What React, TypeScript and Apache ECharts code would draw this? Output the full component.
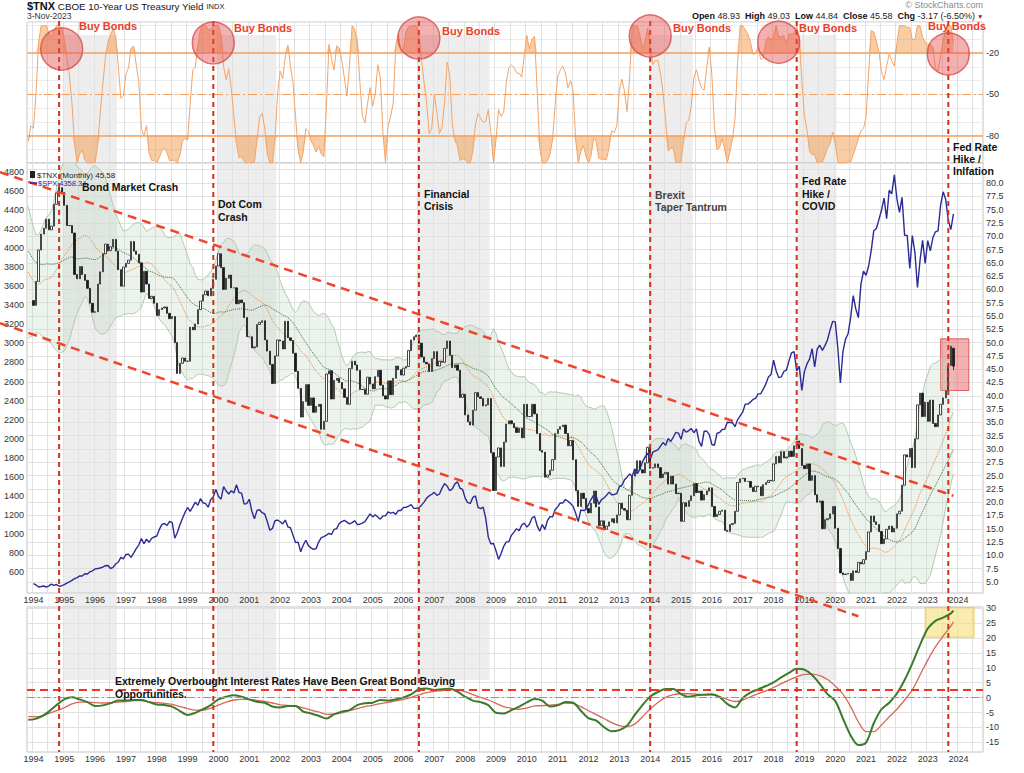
import React, { useEffect, useRef } from 'react';
import * as echarts from 'echarts';

const FONT = "'Liberation Sans', Arial, Helvetica, sans-serif";

// ---------- categories (monthly) ----------
const CAT_FIRST = '1993-11';
const N_CATS = 372;
const CHART_FIRST = '1994-01';

// ---------- data ----------
// $TNX month-end closes (yield x 10), from 1991-01 (earlier months only feed the moving averages)
const TNX_START = '1991-01';
const TNX_CLOSE: number[] = [
  80.9, 80.3, 80.7, 80.2, 80.6, 82.3, 81.3, 77.5, 74.7, 74.3, 74.0, 67.4, // 1991
  72.7, 72.5, 75.3, 75.8, 73.2, 71.2, 67.1, 66.0, 63.5, 67.9, 69.4, 67.0, // 1992
  63.9, 60.3, 60.3, 60.5, 61.6, 58.0, 58.1, 54.5, 53.8, 54.3, 58.2, 57.9, // 1993
  57.0, 61.5, 67.4, 70.4, 71.5, 73.2, 71.2, 71.9, 76.0, 78.1, 79.1, 78.2, // 1994
  75.8, 72.0, 72.0, 70.6, 62.8, 62.0, 64.3, 62.8, 61.7, 60.2, 57.4, 55.7, // 1995
  55.8, 61.0, 63.3, 66.7, 68.5, 67.3, 68.0, 69.4, 67.2, 63.7, 60.6, 64.2, // 1996
  64.9, 65.5, 69.0, 67.2, 66.6, 65.0, 59.5, 63.4, 61.0, 58.3, 58.7, 57.4, // 1997
  55.1, 56.2, 56.5, 56.7, 55.5, 54.5, 54.9, 50.0, 44.2, 46.1, 47.1, 46.5, // 1998
  46.5, 52.9, 52.4, 53.5, 56.2, 57.8, 59.0, 59.7, 58.8, 60.2, 61.9, 64.4, // 1999
  66.7, 64.1, 60.0, 62.1, 62.7, 60.3, 60.3, 57.3, 58.0, 57.5, 54.7, 51.1, // 2000
  51.1, 49.0, 49.2, 53.4, 53.8, 54.1, 50.5, 48.4, 45.9, 42.3, 47.5, 50.5, // 2001
  50.3, 48.8, 54.0, 50.9, 50.4, 48.0, 44.6, 41.4, 36.0, 38.9, 42.1, 38.2, // 2002
  39.6, 36.9, 38.0, 38.4, 33.7, 35.2, 44.1, 44.7, 39.4, 42.9, 43.3, 42.5, // 2003
  41.3, 39.7, 38.4, 45.1, 46.5, 45.8, 44.8, 41.2, 41.2, 40.3, 43.5, 42.2, // 2004
  41.3, 43.6, 44.8, 42.0, 40.0, 39.4, 42.8, 40.2, 43.3, 45.6, 44.9, 43.9, // 2005
  45.2, 45.5, 48.5, 50.5, 51.1, 51.4, 49.9, 47.3, 46.3, 46.0, 44.6, 47.0, // 2006
  48.3, 45.6, 46.5, 46.3, 48.9, 50.3, 47.6, 45.3, 45.8, 44.8, 39.7, 40.3, // 2007
  36.4, 35.1, 34.5, 37.3, 40.6, 39.8, 39.5, 38.1, 38.3, 39.5, 29.3, 22.2, // 2008
  28.5, 30.2, 26.7, 31.3, 34.7, 35.3, 34.8, 34.0, 33.1, 33.9, 32.1, 38.4, // 2009
  36.1, 36.1, 38.4, 36.6, 32.9, 29.7, 29.4, 24.7, 25.1, 26.0, 28.0, 32.9, // 2010
  33.7, 34.2, 34.5, 32.9, 30.6, 31.6, 28.0, 22.2, 19.2, 21.7, 20.7, 18.8, // 2011
  18.0, 19.8, 22.1, 19.1, 15.6, 16.5, 14.9, 15.5, 16.3, 16.9, 16.1, 17.6, // 2012
  19.8, 18.8, 18.5, 16.7, 21.3, 24.9, 25.8, 27.8, 26.1, 25.5, 27.4, 30.3, // 2013
  26.4, 26.5, 27.2, 26.5, 24.6, 25.3, 25.6, 23.4, 24.9, 23.4, 21.6, 21.7, // 2014
  16.4, 19.9, 19.2, 20.3, 21.2, 23.5, 21.8, 22.1, 20.4, 21.4, 22.1, 22.7, // 2015
  19.2, 17.3, 17.7, 18.3, 18.5, 14.7, 14.5, 15.8, 16.0, 18.3, 23.7, 24.4, // 2016
  24.5, 23.9, 23.9, 22.8, 22.0, 23.0, 22.9, 21.2, 23.3, 23.7, 24.1, 24.0, // 2017
  27.2, 28.6, 27.4, 29.5, 28.3, 28.5, 29.6, 28.6, 30.6, 31.5, 30.1, 26.9, // 2018
  26.3, 27.2, 24.1, 25.0, 21.4, 20.0, 20.2, 15.0, 16.7, 16.9, 17.8, 19.2, // 2019
  15.1, 11.3, 6.7, 6.4, 6.5, 6.6, 5.3, 7.1, 6.8, 8.7, 8.4, 9.2,           // 2020
  10.7, 14.4, 17.4, 16.3, 15.8, 14.5, 12.2, 13.1, 14.9, 15.5, 14.4, 15.1, // 2021
  17.8, 18.3, 23.2, 28.9, 28.5, 30.1, 26.5, 31.9, 38.3, 40.5, 36.1, 38.8, // 2022
  35.2, 39.2, 34.8, 34.2, 36.4, 38.4, 39.6, 40.9, 45.7, 49.3, 45.58,      // 2023
];
// last (current) monthly bar, from the header
const LAST_BAR = { open: 48.93, high: 49.03, low: 44.84, close: 45.58, chg: -3.17, chgPct: -6.5 };

// $SPX month-end closes from 1994-01
const SPX_START = '1994-01';
const SPX_CLOSE: number[] = [
  481.6, 467.1, 445.8, 450.9, 456.5, 444.3, 458.3, 475.5, 462.7, 472.4, 453.7, 459.3,
  470.4, 487.4, 500.7, 514.7, 533.4, 544.8, 562.1, 561.9, 584.4, 581.5, 605.4, 615.9,
  636.0, 640.4, 645.5, 654.2, 669.1, 670.6, 639.9, 652.0, 687.3, 705.3, 757.0, 740.7,
  786.2, 790.8, 757.1, 801.3, 848.3, 885.1, 954.3, 899.5, 947.3, 914.6, 955.4, 970.4,
  980.3, 1049.3, 1101.8, 1111.8, 1090.8, 1133.8, 1120.7, 957.3, 1017.0, 1098.7, 1163.6, 1229.2,
  1279.6, 1238.3, 1286.4, 1335.2, 1301.8, 1372.7, 1328.7, 1320.4, 1282.7, 1362.9, 1388.9, 1469.3,
  1394.5, 1366.4, 1498.6, 1452.4, 1420.6, 1454.6, 1430.8, 1517.7, 1436.5, 1429.4, 1315.2, 1320.3,
  1366.0, 1239.9, 1160.3, 1249.5, 1255.8, 1224.4, 1211.2, 1133.6, 1040.9, 1059.8, 1139.5, 1148.1,
  1130.2, 1106.7, 1147.4, 1076.9, 1067.1, 989.8, 911.6, 916.1, 815.3, 885.8, 936.3, 879.8,
  855.7, 841.2, 848.2, 916.9, 963.6, 974.5, 990.3, 1008.0, 996.0, 1050.7, 1058.2, 1111.9,
  1131.1, 1144.9, 1126.2, 1107.3, 1120.7, 1140.8, 1101.7, 1104.2, 1114.6, 1130.2, 1173.8, 1211.9,
  1181.3, 1203.6, 1180.6, 1156.9, 1191.5, 1191.3, 1234.2, 1220.3, 1228.8, 1207.0, 1249.5, 1248.3,
  1280.1, 1280.7, 1294.8, 1310.6, 1270.1, 1270.2, 1276.7, 1303.8, 1335.9, 1377.9, 1400.6, 1418.3,
  1438.2, 1406.8, 1420.9, 1482.4, 1530.6, 1503.4, 1455.3, 1474.0, 1527.0, 1549.4, 1481.1, 1468.4,
  1378.6, 1330.6, 1322.7, 1385.6, 1400.4, 1280.0, 1267.4, 1282.8, 1166.4, 968.8, 896.2, 903.3,
  825.9, 735.1, 797.9, 872.8, 919.1, 919.3, 987.5, 1020.6, 1057.1, 1036.2, 1095.6, 1115.1,
  1073.9, 1104.5, 1169.4, 1186.7, 1089.4, 1030.7, 1101.6, 1049.3, 1141.2, 1183.3, 1180.6, 1257.6,
  1286.1, 1327.2, 1325.8, 1363.6, 1345.2, 1320.6, 1292.3, 1218.9, 1131.4, 1253.3, 1247.0, 1257.6,
  1312.4, 1365.7, 1408.5, 1397.9, 1310.3, 1362.2, 1379.3, 1406.6, 1440.7, 1412.2, 1416.2, 1426.2,
  1498.1, 1514.7, 1569.2, 1597.6, 1630.7, 1606.3, 1685.7, 1633.0, 1681.6, 1756.5, 1805.8, 1848.4,
  1782.6, 1859.5, 1872.3, 1884.0, 1923.6, 1960.2, 1930.7, 2003.4, 1972.3, 2018.1, 2067.6, 2058.9,
  1995.0, 2104.5, 2067.9, 2085.5, 2107.4, 2063.1, 2103.8, 1972.2, 1920.0, 2079.4, 2080.4, 2043.9,
  1940.2, 1932.2, 2059.7, 2065.3, 2097.0, 2098.9, 2173.6, 2171.0, 2168.3, 2126.2, 2198.8, 2238.8,
  2278.9, 2363.6, 2362.7, 2384.2, 2411.8, 2423.4, 2470.3, 2471.7, 2519.4, 2575.3, 2647.6, 2673.6,
  2823.8, 2713.8, 2640.9, 2648.1, 2705.3, 2718.4, 2816.3, 2901.5, 2914.0, 2711.7, 2760.2, 2506.9,
  2704.1, 2784.5, 2834.4, 2945.8, 2752.1, 2941.8, 2980.4, 2926.5, 2976.7, 3037.6, 3141.0, 3230.8,
  3225.5, 2954.2, 2584.6, 2912.4, 3044.3, 3100.3, 3271.1, 3500.3, 3363.0, 3270.0, 3621.6, 3756.1,
  3714.2, 3811.2, 3972.9, 4181.2, 4204.1, 4297.5, 4395.3, 4522.7, 4307.5, 4605.4, 4567.0, 4766.2,
  4515.6, 4373.9, 4530.4, 4131.9, 4132.2, 3785.4, 4130.3, 3955.0, 3585.6, 3872.0, 4080.1, 3839.5,
  4076.6, 3970.2, 4109.3, 4169.5, 4179.8, 4450.4, 4589.0, 4507.7, 4288.1, 4193.8, 4358.34,
];

// lower-panel momentum lines: first point 1993-11, then quarterly 1994-01 .. 2023-10, last point 2023-11
const MOM_GREEN: number[] = [
  -7.4,
  -7.3, -6.4, -4.7, -2.5,  -0.6, 0.1, -0.6, -1.5,  -2.8, -2.6, -1.9, -1.0,  -1.0, -0.8, -0.8, -1.5,
  -2.3, -2.5, -3.0, -4.5,  -5.8, -5.1, -3.9, -2.5,  -0.6, 0.3, 0.8, 0.3,    -0.6, -1.4, -1.7, -3.0,
  -3.3, -2.8, -2.8, -4.7,  -5.3, -6.1, -7.0, -5.6,  -4.7, -4.2, -2.5, -1.9,  -1.7, -0.8, -1.0, -0.6,
  0.1, 1.1, 2.8, 3.1,      2.6, 2.8, 3.0, 2.0,      0.3, -1.0, -1.5, -2.5,  -5.1, -5.3, -4.2, -3.0,
  -1.6, -0.5, -1.0, -3.0,  -2.6, -1.5, -1.7, -4.4,  -6.9, -7.7, -9.9, -11.3, -10.9, -9.4, -5.8, -2.5,
  0.4, 1.9, 2.9, 2.9,      1.2, 0.3, 0.8, 1.0,      1.1, 0.2, -2.1, -3.3,   -0.1, 1.7, 2.8, 3.9,
  5.1, 6.8, 8.3, 9.7,      9.4, 7.6, 4.6, 1.2,      -1.1, -7.0, -12.7, -15.9, -15.1, -8.6, -3.9, -1.7,
  1.4, 5.9, 11.5, 17.7,    23.2, 25.8, 26.9, 28.3,
  29.2,
];
const MOM_RED: number[] = [
  -6.4,
  -6.4, -6.2, -5.3, -4.4,  -3.4, -2.1, -1.5, -1.5,  -1.7, -1.8, -1.7, -1.5,  -1.3, -1.0, -1.0, -1.4,
  -1.7, -1.9, -2.3, -3.0,  -3.7, -4.2, -4.2, -3.5,  -2.5, -1.5, -0.8, -0.6,  -0.6, -0.9, -1.3, -1.8,
  -2.4, -2.6, -2.8, -3.4,  -4.2, -4.8, -5.6, -5.5,  -5.1, -4.4, -3.7, -3.0,  -2.6, -2.0, -1.6, -1.1,
  -0.6, 0.1, 0.9, 1.7,     2.1, 2.4, 2.8, 2.7,      2.0, 1.0, 0.1, -0.8,    -1.9, -3.0, -3.6, -3.9,
  -3.5, -2.8, -2.7, -2.5,  -2.3, -1.8, -1.9, -3.0,  -4.4, -5.7, -7.0, -8.4,  -9.4, -9.7, -8.9, -6.4,
  -3.8, -1.6, 0.1, 1.0,    1.3, 1.3, 1.2, 1.0,      0.9, 0.3, -0.6, -1.3,   -0.8, 0.3, 1.3, 2.3,
  3.4, 4.7, 5.9, 7.0,      7.8, 7.9, 7.4, 6.1,      3.9, 1.2, -3.0, -8.1,   -11.4, -11.4, -9.2, -6.4,
  -3.9, -0.8, 2.6, 7.6,    12.6, 17.1, 20.7, 24.0,
  25.5,
];

// reference levels
const OSC_LEVELS = [-20, -50, -80];
const OSC_PERIOD = 14;
const OSC_SMOOTH = 2;
const MOM_LEVELS = { overbought: 2.5, zero: 0 };

// events (red dashed verticals), shaded periods, "Buy Bonds" circles (month, oscillator value)
const EVENT_MONTHS = ['1994-11', '1999-11', '2006-07', '2014-01', '2018-10', '2023-09'];
const SHADE_RANGES: [string, string][] = [
  ['1995-01', '1996-09'], ['2000-01', '2001-11'], ['2006-07', '2008-10'], ['2014-01', '2015-05'], ['2018-11', '2020-01'],
];
const BUY_CIRCLES: [string, number][] = [
  ['1994-12', -17], ['1999-11', -12.5], ['2006-07', -9], ['2014-01', -7.5], ['2018-03', -12], ['2023-09', -20.5],
];
// trend channel (month, $TNX value)
const CHANNEL_UPPER: [string, number][] = [['1994-01', 79.9], ['2023-11', 21.2]];
const CHANNEL_LOWER: [string, number][] = [['1994-01', 51.5], ['2020-10', -1.45]];
// highlight boxes
const RED_BOX = { from: '2023-06', to: '2024-05', top: 50.7, bottom: 41.0 };
const YELLOW_BOX = { from: '2022-12', to: '2024-07', top: 30.3, bottom: 20.3 };

// ---------- helpers ----------
const ymToAbs = (ym: string) => { const [y, m] = ym.split('-').map(Number); return y * 12 + m - 1; };
const CAT0 = ymToAbs(CAT_FIRST);
const CATEGORIES: string[] = Array.from({ length: N_CATS }, (_, i) => {
  const t = CAT0 + i;
  return `${Math.floor(t / 12)}-${String((t % 12) + 1).padStart(2, '0')}`;
});
const catIndex = (ym: string) => ymToAbs(ym) - CAT0;

const tnxOff = CAT0 - ymToAbs(TNX_START);
const lastD = TNX_CLOSE.length - 1;
const mean = (a: number[]) => a.reduce((s, v) => s + v, 0) / a.length;
const win = (d: number, n: number) => TNX_CLOSE.slice(Math.max(0, d - n + 1), d + 1);
const perCat = (f: (d: number) => number) =>
  CATEGORIES.map((_, i) => { const d = i + tnxOff; return d > lastD || d < 0 ? '-' : +f(d).toFixed(3); });

const firstChartCat = catIndex(CHART_FIRST);
const candleData = CATEGORIES.map((_, i) => {
  const d = i + tnxOff;
  if (i < firstChartCat || d > lastD) return '-';
  if (d === lastD) return [LAST_BAR.open, LAST_BAR.close, LAST_BAR.low, LAST_BAR.high];
  const o = TNX_CLOSE[d - 1];
  const c = TNX_CLOSE[d];
  return [o, c, Math.min(o, c), Math.max(o, c)];
});
const ma20 = perCat((d) => mean(win(d, 20)));
const ma30 = perCat((d) => mean(win(d, 30)));
const sd20 = (d: number) => { const w = win(d, 20); const m = mean(w); return Math.sqrt(mean(w.map((v) => (v - m) * (v - m)))); };
const bbLower = perCat((d) => mean(win(d, 20)) - 2 * sd20(d));
const bbWidth = perCat((d) => 4 * sd20(d));
const rawR = (d: number) => {
  const w = win(d, OSC_PERIOD);
  const hi = Math.max(...w), lo = Math.min(...w);
  return hi === lo ? -50 : (-100 * (hi - TNX_CLOSE[d])) / (hi - lo);
};
const willR = perCat((d) => {
  const vals: number[] = [];
  for (let k = 0; k < OSC_SMOOTH; k++) vals.push(rawR(d - k));
  return mean(vals);
});
const spxOff = catIndex(SPX_START);
const spxData = CATEGORIES.map((_, i) => (i - spxOff >= 0 && i - spxOff < SPX_CLOSE.length ? SPX_CLOSE[i - spxOff] : '-'));

const MOM_MONTHS = [
  CATEGORIES[0],
  ...Array.from({ length: 120 }, (_, k) => CATEGORIES[firstChartCat + 3 * k]),
  CATEGORIES[lastD - tnxOff],
];
const momGreen = MOM_MONTHS.map((m, k) => [catIndex(m), MOM_GREEN[k]]);
const momRed = MOM_MONTHS.map((m, k) => [catIndex(m), MOM_RED[k]]);

const near = (v: number, step: number) => Math.abs(v / step - Math.round(v / step)) < 1e-6;

export default function App() {
  const ref = useRef<HTMLDivElement>(null);

  useEffect(() => {
    document.body.style.margin = '0';
    if (!ref.current) return;
    const chart = echarts.init(ref.current, undefined, { renderer: 'svg' });

    const gridLine = { color: '#e1e1e1', width: 1 };
    const xAxisBase = (gridIndex: number, labels: boolean) => ({
      type: 'category',
      gridIndex,
      data: CATEGORIES,
      boundaryGap: true,
      axisLine: { show: false },
      axisTick: { show: false },
      axisLabel: labels
        ? {
            show: true,
            interval: (_i: number, v: string) => v.endsWith('-01'),
            formatter: (v: string) => v.slice(0, 4),
            fontSize: 9,
            color: '#333',
            margin: 2,
            fontFamily: FONT,
          }
        : { show: false },
      splitLine: {
        show: true,
        interval: (_i: number, v: string) => v.endsWith('-01') || v.endsWith('-07'),
        lineStyle: gridLine,
      },
    });
    const yLabel = (formatter: (v: number) => string) => ({
      fontSize: 9,
      color: '#333',
      margin: 3,
      fontFamily: FONT,
      formatter,
    });

    const option: any = {
      animation: false,
      backgroundColor: '#ffffff',
      grid: [
        { left: 27, right: 41, top: 22, height: 141, show: true, borderColor: '#c4c4c4', borderWidth: 1 },
        { left: 27, right: 41, top: 163, height: 430, show: true, borderColor: '#c4c4c4', borderWidth: 1 },
        { left: 27, right: 41, top: 607, height: 145, show: true, borderColor: '#c4c4c4', borderWidth: 1 },
      ],
      xAxis: [xAxisBase(0, false), xAxisBase(1, true), xAxisBase(2, true)],
      yAxis: [
        {
          type: 'value', gridIndex: 0, position: 'right', min: -100, max: 2.7, interval: 10,
          axisLine: { show: false }, axisTick: { show: false },
          axisLabel: yLabel((v) => (OSC_LEVELS.some((l) => Math.abs(l - v) < 1e-6) ? String(Math.round(v)) : '')),
          splitLine: { show: true, lineStyle: { color: '#ececec', width: 1 } },
        },
        {
          type: 'value', gridIndex: 1, position: 'left', min: 383, max: 4891, splitNumber: 22, minInterval: 200, maxInterval: 200,
          axisLine: { show: false }, axisTick: { show: false },
          axisLabel: { ...yLabel((v) => (near(v, 200) && v >= 600 && v <= 4800 ? String(Math.round(v)) : '')), margin: 3 },
          splitLine: { show: false },
        },
        {
          type: 'value', gridIndex: 1, position: 'right', min: 2.93, max: 83.76, splitNumber: 32, minInterval: 2.5, maxInterval: 2.5,
          axisLine: { show: false }, axisTick: { show: false },
          axisLabel: yLabel((v) => (near(v, 2.5) && v >= 4.99 && v <= 80.01 ? v.toFixed(1) : '')),
          splitLine: { show: true, lineStyle: gridLine },
        },
        {
          type: 'value', gridIndex: 2, position: 'right', min: -18.26, max: 30.44, splitNumber: 10, minInterval: 5, maxInterval: 5,
          axisLine: { show: false }, axisTick: { show: false },
          axisLabel: yLabel((v) => (near(v, 5) && v >= -15.01 && v <= 30.01 ? String(Math.round(v)) : '')),
          splitLine: { show: true, lineStyle: gridLine },
        },
      ],
      series: [
        // ---- top oscillator ----
        {
          type: 'line', xAxisIndex: 0, yAxisIndex: 0, silent: true, symbol: 'none', z: 1,
          data: willR.map((v) => (v === '-' ? '-' : Math.max(v as number, OSC_LEVELS[0]))),
          lineStyle: { width: 0 },
          areaStyle: { origin: OSC_LEVELS[0], color: 'rgba(240,150,70,0.7)' },
        },
        {
          type: 'line', xAxisIndex: 0, yAxisIndex: 0, silent: true, symbol: 'none', z: 1,
          data: willR.map((v) => (v === '-' ? '-' : Math.min(v as number, OSC_LEVELS[2]))),
          lineStyle: { width: 0 },
          areaStyle: { origin: OSC_LEVELS[2], color: 'rgba(240,150,70,0.7)' },
        },
        {
          type: 'line', xAxisIndex: 0, yAxisIndex: 0, silent: true, symbol: 'none', z: 3,
          data: willR,
          lineStyle: { color: '#f3a468', width: 1 },
          markLine: {
            silent: true, symbol: 'none', label: { show: false },
            data: [
              { yAxis: OSC_LEVELS[0], lineStyle: { color: '#f5a05e', width: 1.5, type: 'solid' } },
              { yAxis: OSC_LEVELS[1], lineStyle: { color: '#f5a05e', width: 1, type: [9, 3, 2, 3] } },
              { yAxis: OSC_LEVELS[2], lineStyle: { color: '#f5a05e', width: 1.5, type: 'solid' } },
            ],
          },
        },
        // ---- main panel ----
        {
          type: 'line', xAxisIndex: 1, yAxisIndex: 2, silent: true, symbol: 'none', z: 1,
          stack: 'bb', stackStrategy: 'all', data: bbLower,
          lineStyle: { color: '#b2cbb2', width: 1 },
        },
        {
          type: 'line', xAxisIndex: 1, yAxisIndex: 2, silent: true, symbol: 'none', z: 1,
          stack: 'bb', stackStrategy: 'all', data: bbWidth,
          lineStyle: { color: '#b2cbb2', width: 1 },
          areaStyle: { color: 'rgba(196,216,196,0.45)' },
        },
        {
          type: 'line', xAxisIndex: 1, yAxisIndex: 2, silent: true, symbol: 'none', z: 2,
          data: ma20, lineStyle: { color: '#e8873e', width: 1, type: 'dotted' },
        },
        {
          type: 'line', xAxisIndex: 1, yAxisIndex: 2, silent: true, symbol: 'none', z: 2,
          data: ma30, lineStyle: { color: '#3d6d3d', width: 1, type: 'dotted' },
        },
        {
          type: 'candlestick', xAxisIndex: 1, yAxisIndex: 2, silent: true, z: 4,
          data: candleData, barWidth: 1.8,
          itemStyle: { color: '#ffffff', color0: '#1a1a1a', borderColor: '#1a1a1a', borderColor0: '#1a1a1a', borderWidth: 0.8 },
          markArea: {
            silent: true,
            itemStyle: { color: 'rgba(226,80,80,0.45)', borderColor: '#e35a5a', borderWidth: 1 },
            data: [[{ xAxis: RED_BOX.from, yAxis: RED_BOX.top }, { xAxis: RED_BOX.to, yAxis: RED_BOX.bottom }]],
          },
        },
        {
          type: 'line', xAxisIndex: 1, yAxisIndex: 1, silent: true, symbol: 'none', z: 5,
          data: spxData, lineStyle: { color: '#2b2b95', width: 1.4 },
        },
        // ---- lower panel ----
        {
          type: 'line', xAxisIndex: 2, yAxisIndex: 3, silent: true, symbol: 'none', z: 3, smooth: 0.3,
          data: momRed, lineStyle: { color: '#d8675c', width: 1.3 },
          markArea: {
            silent: true,
            itemStyle: { color: 'rgba(246,224,120,0.6)', borderColor: '#f0c860', borderWidth: 1 },
            data: [[{ xAxis: YELLOW_BOX.from, yAxis: YELLOW_BOX.top }, { xAxis: YELLOW_BOX.to, yAxis: YELLOW_BOX.bottom }]],
          },
        },
        {
          type: 'line', xAxisIndex: 2, yAxisIndex: 3, silent: true, symbol: 'none', z: 4, smooth: 0.3,
          data: momGreen, lineStyle: { color: '#3b7a2c', width: 2 },
          markLine: {
            silent: true, symbol: 'none', label: { show: false },
            data: [
              { yAxis: MOM_LEVELS.overbought, lineStyle: { color: '#f0361f', width: 2, type: [8, 5] } },
              { yAxis: MOM_LEVELS.zero, lineStyle: { color: '#7ea874', width: 1, type: [8, 3, 2, 3] } },
            ],
          },
        },
      ],
    };
    chart.setOption(option);

    // ---- annotations anchored on the axes ----
    const xAt = (ym: string) => chart.convertToPixel({ xAxisIndex: 1 }, catIndex(ym)) as number;
    const bw = (chart.convertToPixel({ xAxisIndex: 1 }, 1) as number) - (chart.convertToPixel({ xAxisIndex: 1 }, 0) as number);
    const yOsc = (v: number) => chart.convertToPixel({ yAxisIndex: 0 }, v) as number;
    const yTnx = (v: number) => chart.convertToPixel({ yAxisIndex: 2 }, v) as number;

    const g: any[] = [];
    SHADE_RANGES.forEach(([a, b]) => {
      const x0 = xAt(a) - bw / 2, x1 = xAt(b) + bw / 2;
      g.push({ type: 'rect', z: -5, silent: true, shape: { x: x0, y: 35, width: x1 - x0, height: 645 }, style: { fill: '#ededed' } });
    });
    EVENT_MONTHS.forEach((m) => {
      const x = xAt(m);
      g.push({ type: 'line', z: 20, silent: true, shape: { x1: x, y1: 21, x2: x, y2: 752 }, style: { stroke: '#d0301c', lineWidth: 2, lineDash: [5, 4] } });
    });
    [CHANNEL_UPPER, CHANNEL_LOWER].forEach(([[m1, v1], [m2, v2]]) => {
      const x1 = xAt(m1), y1 = yTnx(v1), x2 = xAt(m2), y2 = yTnx(v2);
      const slope = (y2 - y1) / (x2 - x1);
      g.push({ type: 'line', z: 21, silent: true, shape: { x1: 0, y1: y1 - slope * x1, x2, y2 }, style: { stroke: '#f0442a', lineWidth: 2.5, lineDash: [9, 6] } });
    });
    BUY_CIRCLES.forEach(([m, v]) => {
      g.push({ type: 'circle', z: 22, silent: true, shape: { cx: xAt(m), cy: yOsc(v), r: 21 }, style: { fill: 'rgba(228,82,82,0.45)', stroke: 'rgba(214,70,70,0.75)', lineWidth: 1.5 } });
    });

    const text = (t: string, x: number, y: number, font: string, fill = '#111', align = 'left', extra: any = {}) => ({
      type: 'text', z: 30, silent: true, x, y,
      style: { text: t, font, fill, align, textAlign: align, verticalAlign: 'top', textVerticalAlign: 'top', lineHeight: 12.5, ...extra },
    });
    const bold = `bold 10.5px ${FONT}`;
    const buyPos: [number, number][] = [[79, 20], [234, 22], [442, 25], [673, 22], [799, 22], [928, 20]];
    buyPos.forEach(([x, y]) => g.push(text('Buy Bonds', x, y, `bold 11px ${FONT}`, '#e8402a', 'left', { lineHeight: 11 })));

    g.push(text('Bond Market Crash', 82, 181, bold));
    g.push(text('Dot Com\nCrash', 218, 198, bold));
    g.push(text('Financial\nCrisis', 424, 187.5, bold));
    g.push(text('Brexit\nTaper Tantrum', 655, 188.5, bold, '#444'));
    g.push(text('Fed Rate\nHike /\nCOVID', 802, 175, bold));
    g.push(text('Fed Rate\nHike /\nInlfation', 953, 141, bold, '#111', 'left', { lineHeight: 12 }));
    g.push(text('Extremely Overbought Interest Rates Have Been Great Bond Buying\nOpportunities.', 115, 675, bold));

    // header
    g.push(text('{t|$TNX} CBOE 10-Year US Treasury Yield {s|INDX}', 27, 0, `9.8px ${FONT}`, '#111', 'left', {
      lineHeight: 12,
      rich: {
        t: { fontWeight: 'bold', fontSize: 11, fontFamily: FONT, fill: '#111', lineHeight: 12 },
        s: { fontSize: 7.5, fontFamily: FONT, fill: '#222', lineHeight: 12 },
      },
    }));
    g.push(text('3-Nov-2023', 27, 11, `8.5px ${FONT}`, '#333', 'left', { lineHeight: 9.5 }));
    g.push(text('\u00A9 StockCharts.com', 983, 0, `9px ${FONT}`, '#8a8a8a', 'right', { lineHeight: 10 }));
    g.push(text(
      `{b|Open} ${LAST_BAR.open.toFixed(2)}  {b|High} ${LAST_BAR.high.toFixed(2)}  {b|Low} ${LAST_BAR.low.toFixed(2)}  {b|Close} ${LAST_BAR.close.toFixed(2)}  {b|Chg} ${LAST_BAR.chg.toFixed(2)} (${LAST_BAR.chgPct.toFixed(2)}%)`,
      975, 11, `9px ${FONT}`, '#222', 'right',
      { lineHeight: 9.5, rich: { b: { fontWeight: 'bold', fontSize: 9, fontFamily: FONT, fill: '#111', lineHeight: 9.5 } } },
    ));
    g.push(text('\u25BC', 977, 12.5, `6.5px ${FONT}`, '#b02020', 'left', { lineHeight: 7 }));

    // legend
    g.push({ type: 'rect', z: 30, silent: true, shape: { x: 30, y: 171, width: 5, height: 7 }, style: { fill: '#222' } });
    g.push(text(`$TNX (Monthly) ${LAST_BAR.close.toFixed(2)}`, 37, 170.5, `8px ${FONT}`, '#222', 'left', { lineHeight: 9 }));
    g.push({ type: 'line', z: 30, silent: true, shape: { x1: 30, y1: 183, x2: 37, y2: 183 }, style: { stroke: '#2a2a9a', lineWidth: 1.5 } });
    g.push(text(`$SPX ${SPX_CLOSE[SPX_CLOSE.length - 1].toFixed(2)}`, 38, 179, `7.5px ${FONT}`, '#2a2a9a', 'left', { lineHeight: 8 }));

    chart.setOption({ graphic: { elements: g } });

    return () => chart.dispose();
  }, []);

  return <div ref={ref} style={{ width: 1024, height: 773 }} />;
}
